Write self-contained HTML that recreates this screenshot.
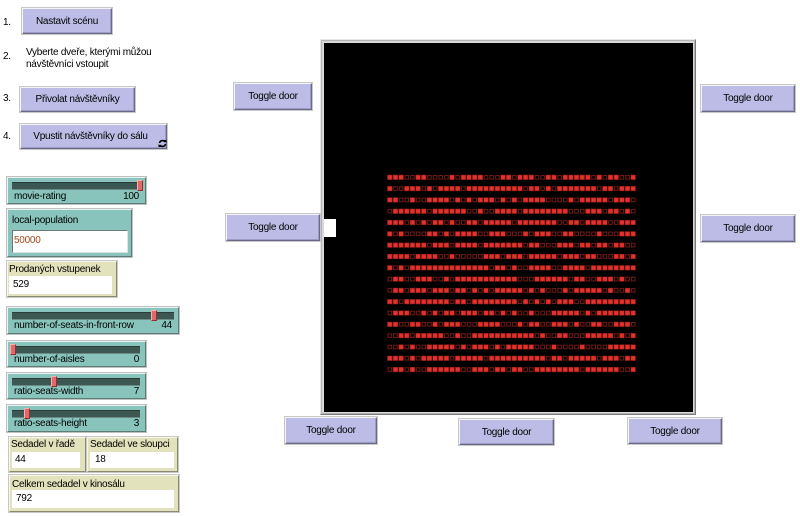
<!DOCTYPE html>
<html><head><meta charset="utf-8">
<style>
html,body{margin:0;padding:0;background:#fff;}
body{width:800px;height:516px;position:relative;overflow:hidden;font-family:"Liberation Sans","DejaVu Sans",sans-serif;font-size:10px;letter-spacing:-0.25px;color:#000;}
.a{position:absolute;}
.t{position:absolute;white-space:nowrap;line-height:12px;}
.btn{position:absolute;box-sizing:border-box;background:#bcbce6;border:1px solid;border-color:#f4f4f4 #6a6a88 #6a6a88 #f4f4f4;box-shadow:inset -1px -1px 0 #9c9cc4, 0 0 0 1px #c8c8c8;display:flex;align-items:center;justify-content:center;white-space:nowrap;}
.sl{position:absolute;box-sizing:border-box;background:#88c4bc;border:1px solid;border-color:#e8f4f2 #5c7c78 #5c7c78 #e8f4f2;box-shadow:0 0 0 1px #c0c0c0;}
.tr{position:absolute;height:8px;background:#3c5652;border-top:1px solid #2a3c3a;border-bottom:1px solid #6a8a86;box-sizing:border-box;}
.hd{position:absolute;width:6px;height:11px;background:#e06a6a;border:1px solid;border-color:#f6b0b0 #903030 #903030 #f6b0b0;box-sizing:border-box;}
.mon{position:absolute;box-sizing:border-box;background:#e2e2bc;border:1px solid;border-color:#f6f6ea #8a8a70 #8a8a70 #f6f6ea;box-shadow:0 0 0 1px #c8c8c8;}
.wb{position:absolute;background:#fff;box-sizing:border-box;}
</style></head><body>

<div class="t" style="left:3px;top:17px;">1.</div>
<div class="btn" style="left:22px;top:8px;width:90px;height:26px;">Nastavit scénu</div>

<div class="t" style="left:3px;top:51px;">2.</div>
<div class="t" style="left:26px;top:47px;">Vyberte dveře, kterými můžou</div>
<div class="t" style="left:26px;top:59px;">návštěvníci vstoupit</div>

<div class="t" style="left:3px;top:93px;">3.</div>
<div class="btn" style="left:20px;top:87px;width:115px;height:25px;">Přivolat návštěvníky</div>

<div class="t" style="left:3px;top:131px;">4.</div>
<div class="btn" style="left:20px;top:124px;width:147px;height:25px;padding-right:6px;">Vpustit návštěvníky do sálu</div>
<svg class="a" style="left:158px;top:139px;" width="9" height="9" viewBox="0 0 9 9">
<path d="M1.5 4 A3 3 0 0 1 7 3" fill="none" stroke="#000" stroke-width="1.6"/>
<path d="M7.5 5 A3 3 0 0 1 2 6" fill="none" stroke="#000" stroke-width="1.6"/>
<path d="M5.5 1 L8.5 1 L8.5 4 Z" fill="#000"/>
<path d="M3.5 8 L0.5 8 L0.5 5 Z" fill="#000"/>
</svg>

<div class="sl" style="left:7px;top:177px;width:139px;height:27px;"></div>
<div class="tr" style="left:12px;top:182px;width:131px;"></div>
<div class="hd" style="left:137px;top:180px;"></div>
<div class="t" style="left:14px;top:191px;">movie-rating</div>
<div class="t" style="left:100px;top:191px;width:39px;text-align:right;">100</div>

<div class="sl" style="left:7px;top:209px;width:125px;height:48px;"></div>
<div class="t" style="left:12px;top:215px;">local-population</div>
<div class="wb" style="left:12px;top:230px;width:116px;height:23px;border:1px solid;border-color:#6a7a78 #e0e0e0 #e0e0e0 #6a7a78;"></div>
<div class="t" style="left:14px;top:235px;color:#a8481e;">50000</div>

<div class="mon" style="left:7px;top:261px;width:110px;height:36px;"></div>
<div class="t" style="left:9px;top:264px;">Prodaných vstupenek</div>
<div class="wb" style="left:9px;top:276px;width:103px;height:18px;"></div>
<div class="t" style="left:13px;top:279px;">529</div>

<div class="sl" style="left:7px;top:307px;width:172px;height:27px;"></div>
<div class="tr" style="left:12px;top:312px;width:162px;"></div>
<div class="hd" style="left:151px;top:310px;"></div>
<div class="t" style="left:14px;top:320px;">number-of-seats-in-front-row</div>
<div class="t" style="left:140px;top:320px;width:32px;text-align:right;">44</div>

<div class="sl" style="left:7px;top:341px;width:139px;height:26px;"></div>
<div class="tr" style="left:12px;top:346px;width:128px;"></div>
<div class="hd" style="left:10px;top:344px;"></div>
<div class="t" style="left:14px;top:354px;">number-of-aisles</div>
<div class="t" style="left:110px;top:354px;width:29px;text-align:right;">0</div>

<div class="sl" style="left:7px;top:373px;width:139px;height:26px;"></div>
<div class="tr" style="left:12px;top:378px;width:128px;"></div>
<div class="hd" style="left:51px;top:376px;"></div>
<div class="t" style="left:14px;top:386px;">ratio-seats-width</div>
<div class="t" style="left:110px;top:386px;width:29px;text-align:right;">7</div>

<div class="sl" style="left:7px;top:405px;width:139px;height:27px;"></div>
<div class="tr" style="left:12px;top:410px;width:128px;"></div>
<div class="hd" style="left:24px;top:408px;"></div>
<div class="t" style="left:14px;top:418px;">ratio-seats-height</div>
<div class="t" style="left:110px;top:418px;width:29px;text-align:right;">3</div>

<div class="mon" style="left:9px;top:437px;width:77px;height:35px;"></div>
<div class="t" style="left:11px;top:439px;">Sedadel v řadě</div>
<div class="wb" style="left:12px;top:452px;width:68px;height:16px;"></div>
<div class="t" style="left:15px;top:454px;">44</div>

<div class="mon" style="left:87px;top:437px;width:91px;height:35px;"></div>
<div class="t" style="left:90px;top:439px;">Sedadel ve sloupci</div>
<div class="wb" style="left:90px;top:452px;width:84px;height:16px;"></div>
<div class="t" style="left:95px;top:454px;">18</div>

<div class="mon" style="left:9px;top:475px;width:170px;height:37px;"></div>
<div class="t" style="left:12px;top:479px;">Celkem sedadel v kinosálu</div>
<div class="wb" style="left:12px;top:490px;width:162px;height:18px;"></div>
<div class="t" style="left:16px;top:493px;">792</div>

<div class="a" style="left:320px;top:39px;width:376px;height:376px;background:#b4b4b4;box-sizing:border-box;border:1px solid;border-color:#e6e6e6 #7a7a7a #7a7a7a #e6e6e6;"></div>
<div class="a" style="left:322px;top:41px;width:372px;height:372px;background:#d8d8d8;"></div>
<div class="a" style="left:324px;top:43px;width:369px;height:369px;background:#000;"></div>
<div class="a" style="left:324px;top:219px;width:12px;height:18px;background:#fff;"></div>
<svg id="seats" class="a" style="left:324px;top:43px;" width="369" height="369" viewBox="0 0 369 369"></svg>

<div class="btn" style="left:234px;top:83px;width:78px;height:27px;">Toggle door</div>
<div class="btn" style="left:226px;top:214px;width:94px;height:27px;">Toggle door</div>
<div class="btn" style="left:701px;top:85px;width:94px;height:27px;">Toggle door</div>
<div class="btn" style="left:701px;top:215px;width:94px;height:27px;">Toggle door</div>
<div class="btn" style="left:285px;top:417px;width:92px;height:27px;">Toggle door</div>
<div class="btn" style="left:459px;top:419px;width:95px;height:26px;">Toggle door</div>
<div class="btn" style="left:628px;top:418px;width:94px;height:26px;">Toggle door</div>

<script>
(function(){
  var svg=document.getElementById('seats');
  var s=12345;
  function rnd(){s=(s*1103515245+12345)%2147483648;return s/2147483648;}
  var cells=[];
  for(var r=0;r<18;r++)for(var c=0;c<44;c++)cells.push([r,c,rnd()]);
  var sorted=cells.slice().sort(function(a,b){return a[2]-b[2];});
  var filled={};
  for(var i=0;i<529;i++)filled[sorted[i][0]+'_'+sorted[i][1]]=1;
  var html='';
  for(var r=0;r<18;r++){
    for(var c=0;c<44;c++){
      var x=(387.5-324)+c*5.66, y=(175-43)+r*11.31;
      if(filled[r+'_'+c]){
        html+='<rect x="'+x.toFixed(2)+'" y="'+y.toFixed(2)+'" width="4.6" height="4.6" fill="#e0322a" stroke="#8a1a14" stroke-width="0.5"/>';
      }else{
        html+='<rect x="'+(x+0.5).toFixed(2)+'" y="'+(y+0.5).toFixed(2)+'" width="3.6" height="3.6" fill="#000" stroke="#701a14" stroke-width="1"/>';
      }
    }
  }
  svg.innerHTML=html;
})();
</script>
</body></html>
